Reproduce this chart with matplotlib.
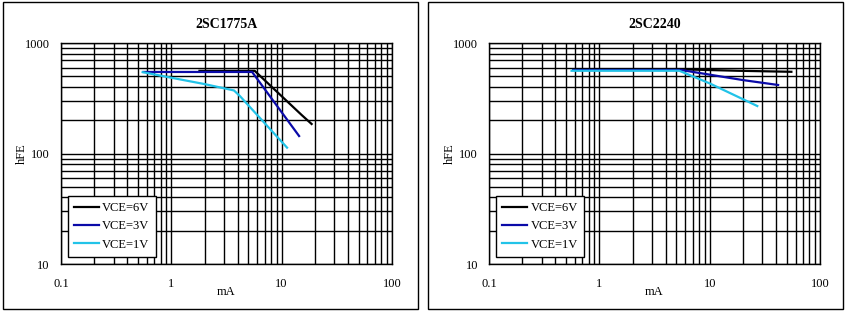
import matplotlib
matplotlib.use('Agg')
import matplotlib.pyplot as plt
from matplotlib.patches import Rectangle
from matplotlib.ticker import LogLocator, FixedLocator, NullFormatter

plt.rcParams['font.family'] = ['Liberation Serif', 'DejaVu Serif']

# 2SC1775A curves (Ic in mA, hFE)
a_x6 = [1.8, 5.7, 15.2, 18.7]
a_y6 = [560, 560, 223, 185]
a_x3 = [0.56, 5.4, 14.4]
a_y3 = [547, 547, 144]
a_x1 = [0.55, 1.0, 2.0, 3.7, 4.2, 11.2]
a_y1 = [545, 485, 425, 372, 330, 113]

# 2SC2240 curves
b_x6 = [0.58, 5.6, 17.8, 55]
b_y6 = [578, 578, 561, 549]
b_x3 = [0.58, 5.5, 20, 41.7]
b_y3 = [570, 570, 462, 417]
b_x1 = [0.56, 5.3, 10, 27]
b_y1 = [561, 561, 431, 269]

titles = ['2SC1775A', '2SC2240']
labels = ['VCE=6V', 'VCE=3V', 'VCE=1V']
colors = ['black', '#0a0aa8', '#22c3e8']
xticks = [0.1, 1, 10, 100]
yticks = [10, 100, 1000]

fig = plt.figure(figsize=(8.48, 3.11), dpi=100)

panels = [
    (0.0719, [(a_x6, a_y6), (a_x3, a_y3), (a_x1, a_y1)], 0.021),
    (0.5767, [(b_x6, b_y6), (b_x3, b_y3), (b_x1, b_y1)], 0.021),
]

fs = 9
for i, (left, curves, legx) in enumerate(panels):
    # outer frame
    bx = 0.0035 if i == 0 else 0.5047
    fig.add_artist(Rectangle((bx, 0.007), 0.4895, 0.986, transform=fig.transFigure,
                             fill=False, edgecolor='black', linewidth=1.0))
    ax = fig.add_axes([left, 0.1511, 0.3903, 0.7106])
    ax.set_xscale('log')
    ax.set_yscale('log')
    ax.set_xlim(0.1, 100)
    ax.set_ylim(10, 1000)
    for (xs, ys), c, lab in zip(curves, colors, labels):
        ax.plot(xs, ys, color=c, linewidth=1.6, label=lab, zorder=3)
    ax.xaxis.set_major_locator(FixedLocator(xticks))
    ax.yaxis.set_major_locator(FixedLocator(yticks))
    ax.set_xticklabels(['0.1', '1', '10', '100'])
    ax.set_yticklabels(['10', '100', '1000'])
    ax.xaxis.set_minor_locator(LogLocator(base=10, subs=range(2, 10)))
    ax.yaxis.set_minor_locator(LogLocator(base=10, subs=range(2, 10)))
    ax.xaxis.set_minor_formatter(NullFormatter())
    ax.yaxis.set_minor_formatter(NullFormatter())
    ax.grid(which='both', color='black', linewidth=1.0)
    ax.tick_params(which='both', length=0, labelsize=fs)
    ax.tick_params(axis='x', pad=10)
    ax.tick_params(axis='y', pad=8)
    for s in ax.spines.values():
        s.set_linewidth(1.0)
    ax.set_xlabel('mA', fontsize=fs, labelpad=-2.5)
    ax.set_ylabel('hFE', fontsize=fs, labelpad=-2)
    ax.set_title(titles[i], fontsize=10, fontweight='bold', pad=11)
    leg = ax.legend(loc='lower left', bbox_to_anchor=(legx, 0.032), fontsize=fs,
                    fancybox=False, edgecolor='black', framealpha=1,
                    handlelength=2.0, handletextpad=0.25, labelspacing=0.5,
                    borderpad=0.5, borderaxespad=0)
    leg.get_frame().set_linewidth(1.0)

fig.savefig('out.png', dpi=100)
